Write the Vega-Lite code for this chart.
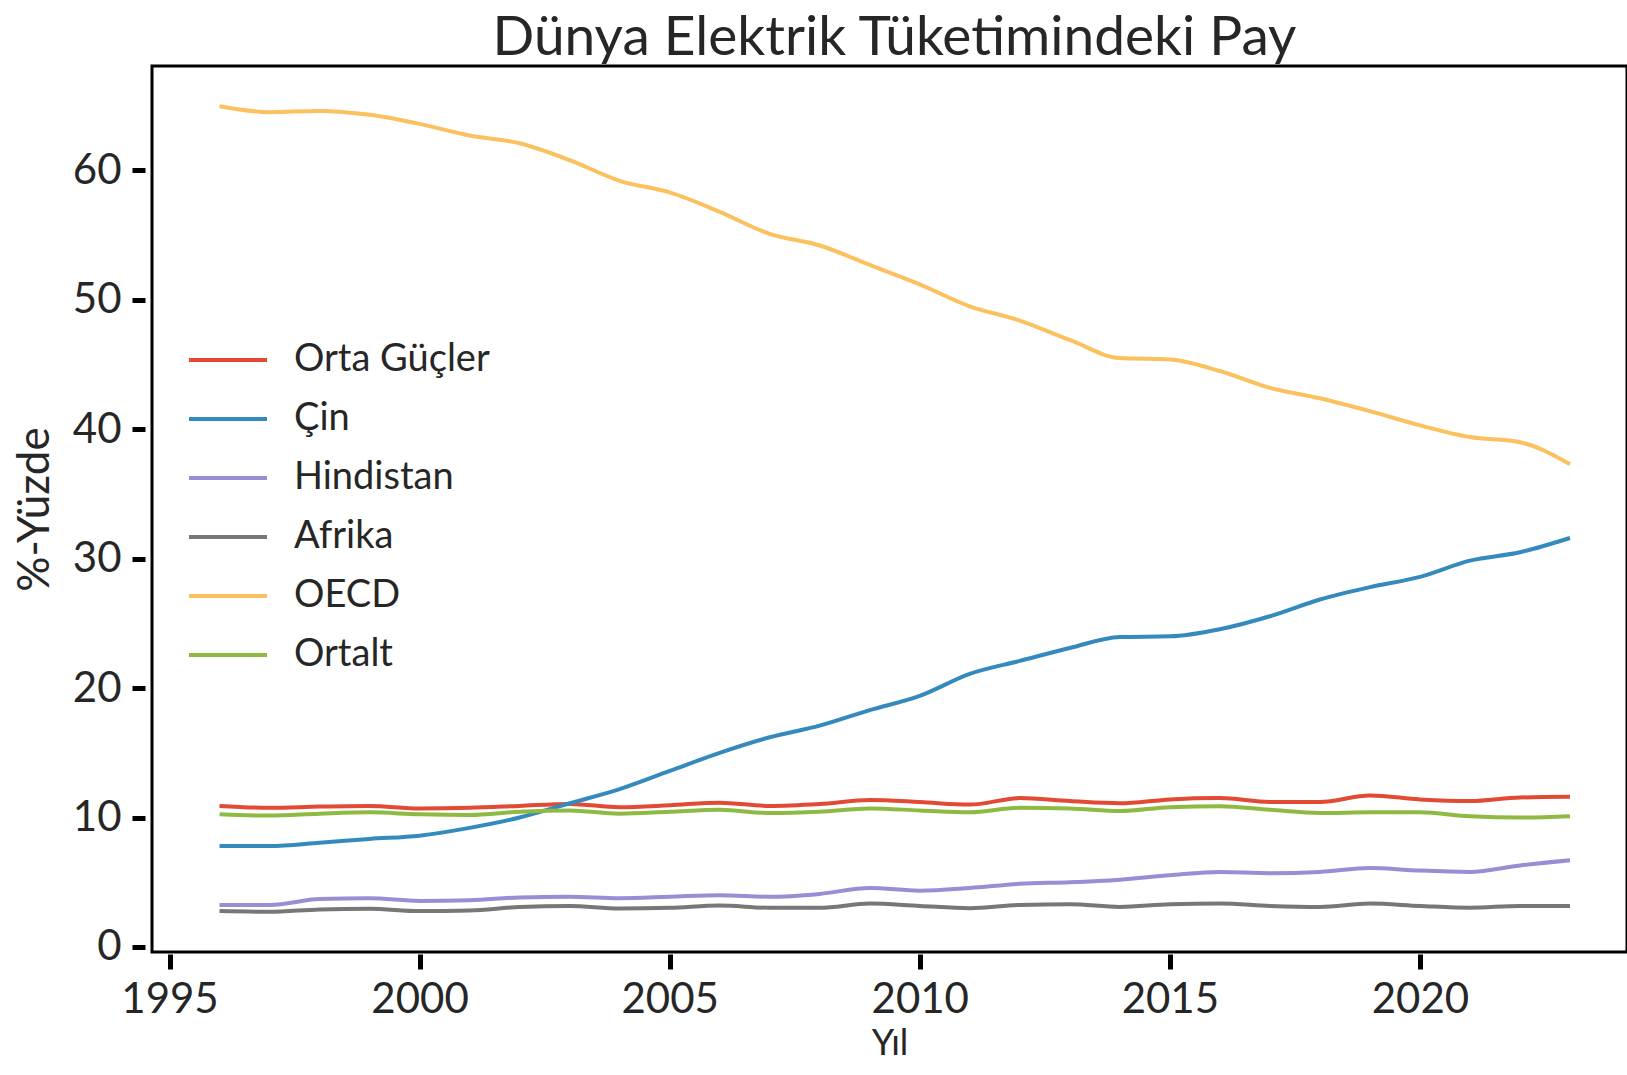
{
  "$schema": "https://vega.github.io/schema/vega-lite/v6.json",
  "autosize": {"type": "none"},
  "padding": {"left": 152, "top": 66, "right": 0, "bottom": 123},
  "width": 1475,
  "height": 886,
  "background": "white",
  "title": {"text": "Dünya Elektrik Tüketimindeki Pay", "fontSize": 55, "fontWeight": "normal", "color": "#262626", "baseline": "alphabetic", "offset": 15, "dx": 5, "dy": 59},
  "data": {"values": [
    {"yil": 1996, "Orta Güçler": 10.9, "Çin": 7.8, "Hindistan": 3.25, "Afrika": 2.77, "OECD": 64.96, "Ortalt": 10.26},
    {"yil": 1997, "Orta Güçler": 10.75, "Çin": 7.8, "Hindistan": 3.25, "Afrika": 2.72, "OECD": 64.5, "Ortalt": 10.15},
    {"yil": 1998, "Orta Güçler": 10.85, "Çin": 8.05, "Hindistan": 3.7, "Afrika": 2.9, "OECD": 64.6, "Ortalt": 10.3},
    {"yil": 1999, "Orta Güçler": 10.9, "Çin": 8.35, "Hindistan": 3.77, "Afrika": 2.95, "OECD": 64.3, "Ortalt": 10.4},
    {"yil": 2000, "Orta Güçler": 10.7, "Çin": 8.6, "Hindistan": 3.56, "Afrika": 2.77, "OECD": 63.6, "Ortalt": 10.25},
    {"yil": 2001, "Orta Güçler": 10.75, "Çin": 9.2, "Hindistan": 3.6, "Afrika": 2.82, "OECD": 62.7, "Ortalt": 10.2},
    {"yil": 2002, "Orta Güçler": 10.9, "Çin": 10.0, "Hindistan": 3.83, "Afrika": 3.09, "OECD": 62.1, "Ortalt": 10.45},
    {"yil": 2003, "Orta Güçler": 11.05, "Çin": 11.1, "Hindistan": 3.88, "Afrika": 3.17, "OECD": 60.8, "Ortalt": 10.55},
    {"yil": 2004, "Orta Güçler": 10.8, "Çin": 12.2, "Hindistan": 3.77, "Afrika": 2.98, "OECD": 59.2, "Ortalt": 10.3},
    {"yil": 2005, "Orta Güçler": 10.95, "Çin": 13.6, "Hindistan": 3.88, "Afrika": 3.03, "OECD": 58.3, "Ortalt": 10.45},
    {"yil": 2006, "Orta Güçler": 11.15, "Çin": 15.0, "Hindistan": 4.0, "Afrika": 3.2, "OECD": 56.8, "Ortalt": 10.6},
    {"yil": 2007, "Orta Güçler": 10.9, "Çin": 16.2, "Hindistan": 3.88, "Afrika": 3.03, "OECD": 55.1, "Ortalt": 10.35},
    {"yil": 2008, "Orta Güçler": 11.05, "Çin": 17.1, "Hindistan": 4.1, "Afrika": 3.03, "OECD": 54.2, "Ortalt": 10.45},
    {"yil": 2009, "Orta Güçler": 11.35, "Çin": 18.3, "Hindistan": 4.56, "Afrika": 3.35, "OECD": 52.7, "Ortalt": 10.7},
    {"yil": 2010, "Orta Güçler": 11.2, "Çin": 19.4, "Hindistan": 4.35, "Afrika": 3.17, "OECD": 51.2, "Ortalt": 10.55},
    {"yil": 2011, "Orta Güçler": 11.0, "Çin": 21.1, "Hindistan": 4.56, "Afrika": 3.0, "OECD": 49.5, "Ortalt": 10.4},
    {"yil": 2012, "Orta Güçler": 11.5, "Çin": 22.1, "Hindistan": 4.88, "Afrika": 3.25, "OECD": 48.4, "Ortalt": 10.75},
    {"yil": 2013, "Orta Güçler": 11.27, "Çin": 23.1, "Hindistan": 5.0, "Afrika": 3.3, "OECD": 46.9, "Ortalt": 10.7},
    {"yil": 2014, "Orta Güçler": 11.1, "Çin": 23.95, "Hindistan": 5.2, "Afrika": 3.09, "OECD": 45.5, "Ortalt": 10.5},
    {"yil": 2015, "Orta Güçler": 11.4, "Çin": 24.0, "Hindistan": 5.54, "Afrika": 3.3, "OECD": 45.4, "Ortalt": 10.8},
    {"yil": 2016, "Orta Güçler": 11.5, "Çin": 24.55, "Hindistan": 5.8, "Afrika": 3.35, "OECD": 44.5, "Ortalt": 10.87},
    {"yil": 2017, "Orta Güçler": 11.2, "Çin": 25.55, "Hindistan": 5.7, "Afrika": 3.17, "OECD": 43.2, "Ortalt": 10.6},
    {"yil": 2018, "Orta Güçler": 11.2, "Çin": 26.85, "Hindistan": 5.8, "Afrika": 3.09, "OECD": 42.4, "Ortalt": 10.35},
    {"yil": 2019, "Orta Güçler": 11.7, "Çin": 27.8, "Hindistan": 6.1, "Afrika": 3.35, "OECD": 41.4, "Ortalt": 10.4},
    {"yil": 2020, "Orta Güçler": 11.4, "Çin": 28.6, "Hindistan": 5.9, "Afrika": 3.17, "OECD": 40.3, "Ortalt": 10.4},
    {"yil": 2021, "Orta Güçler": 11.27, "Çin": 29.85, "Hindistan": 5.8, "Afrika": 3.03, "OECD": 39.4, "Ortalt": 10.1},
    {"yil": 2022, "Orta Güçler": 11.55, "Çin": 30.5, "Hindistan": 6.3, "Afrika": 3.17, "OECD": 39.0, "Ortalt": 10.0},
    {"yil": 2023, "Orta Güçler": 11.6, "Çin": 31.6, "Hindistan": 6.7, "Afrika": 3.17, "OECD": 37.3, "Ortalt": 10.1}
  ]},
  "transform": [
    {"fold": ["Orta Güçler", "Çin", "Hindistan", "Afrika", "OECD", "Ortalt"], "as": ["bolge", "pay"]}
  ],
  "mark": {"type": "line", "strokeWidth": 4, "interpolate": "monotone"},
  "encoding": {
    "x": {
      "field": "yil", "type": "quantitative",
      "scale": {"domain": [1994.65, 2024.14], "nice": false, "zero": false},
      "axis": {"values": [1995, 2000, 2005, 2010, 2015, 2020], "format": "d", "title": "Yıl", "titleFontSize": 36, "grid": false, "domain": false, "tickSize": 15, "tickWidth": 5, "offset": 2, "labelPadding": 10, "titlePadding": 6}
    },
    "y": {
      "field": "pay", "type": "quantitative",
      "scale": {"domain": [-0.39, 68.07], "nice": false, "zero": false},
      "axis": {"values": [0, 10, 20, 30, 40, 50, 60], "title": "%-Yüzde", "titleFontSize": 44, "grid": false, "domain": false, "tickSize": 13, "tickWidth": 5, "offset": 7, "labelPadding": 11, "titlePadding": 15}
    },
    "color": {
      "field": "bolge", "type": "nominal",
      "scale": {"domain": ["Orta Güçler", "Çin", "Hindistan", "Afrika", "OECD", "Ortalt"], "range": ["#E24A33", "#348ABD", "#988ED5", "#777777", "#FBC15E", "#8EBA42"]},
      "legend": {"orient": "none", "legendX": 35, "legendY": 274, "title": null, "symbolType": "stroke", "symbolSize": 6084, "symbolStrokeWidth": 4, "labelFontSize": 38, "labelOffset": 25, "labelLimit": 500, "clipHeight": 40, "rowPadding": 19, "padding": 0, "labelColor": "#262626"}
    }
  },
  "config": {
    "font": "Lato",
    "view": {"stroke": "#000000", "strokeWidth": 3},
    "axis": {"labelFontSize": 42, "titleFontSize": 42, "titleFontWeight": "normal", "labelColor": "#262626", "titleColor": "#262626", "tickColor": "#000000"},
    "legend": {"labelFont": "Lato"}
  }
}
